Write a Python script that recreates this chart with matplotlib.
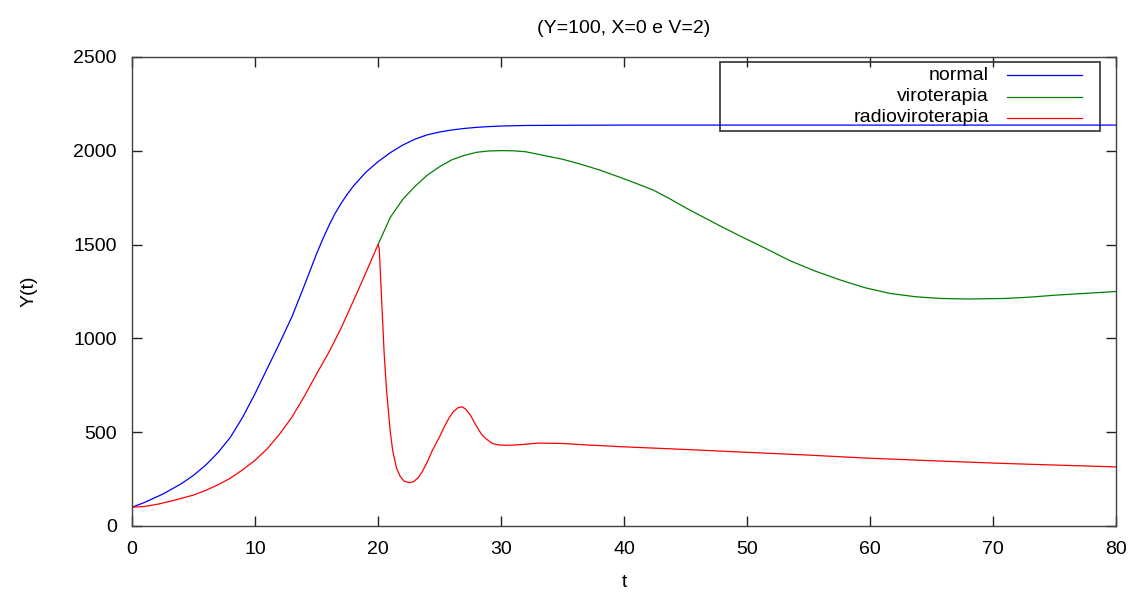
import matplotlib
matplotlib.use("Agg")
import matplotlib.pyplot as plt
from matplotlib.patches import Rectangle
from matplotlib.lines import Line2D

plt.rcParams['font.family'] = ['Liberation Sans', 'DejaVu Sans']

# values
t_normal = [0, 1, 2, 2.5, 3, 4, 5, 6, 7, 8, 9, 10, 11, 12, 13, 14, 14.5, 15, 15.5,
            16, 16.5, 17, 17.5, 18, 19, 20, 21, 22, 23, 24, 25, 26, 27, 28, 29, 30,
            32, 35, 40, 80]
y_normal = [100, 125, 155, 170, 188, 225, 270, 325, 392, 473, 580, 705, 840, 975,
            1115, 1280, 1365, 1450, 1528, 1600, 1665, 1720, 1768, 1812, 1885, 1942,
            1990, 2030, 2062, 2085, 2100, 2111, 2119, 2125, 2129, 2132, 2135, 2136,
            2137, 2137]

t_viro = [20, 21, 22, 23, 24, 25, 26, 27, 28, 29, 30, 31, 32, 33.5, 35, 36.4, 38,
          39.7, 41, 42.4, 43.7, 45.1, 47.8, 49.4, 51.5, 53.5, 55.5, 57.6, 59.6, 61.6,
          63.7, 65.7, 68, 71.1, 73, 75.2, 77.5, 80]
y_viro = [1500, 1645, 1740, 1810, 1870, 1915, 1952, 1975, 1992, 1999, 2001, 2000,
          1995, 1975, 1955, 1930, 1898, 1858, 1826, 1790, 1745, 1693, 1600, 1547,
          1480, 1414, 1360, 1311, 1270, 1240, 1222, 1213, 1210, 1213, 1220, 1231,
          1240, 1250]

t_radio = [0, 1, 2, 3, 4, 5, 6, 7, 8, 9, 10, 11, 12, 13, 14, 15, 16, 17, 18, 19, 20,
           20.1, 20.3, 20.5, 20.7, 21.0, 21.2, 21.5, 21.8, 22.1, 22.5, 22.9, 23.3,
           23.6, 24.0, 24.4, 25.0, 25.4, 25.8, 26.1, 26.5, 26.8, 27.1, 27.5, 27.9,
           28.4, 28.8, 29.3, 29.8, 30.5, 31.5, 33, 35, 37, 40, 45, 48.9, 55, 59.7,
           65, 70.6, 75, 80]
y_radio = [100, 104, 115, 130, 147, 165, 190, 220, 255, 300, 350, 412, 490, 580,
           690, 810, 925, 1055, 1200, 1348, 1500,
           1480, 1200, 920, 720, 500, 400, 310, 265, 240, 231, 236, 260,
           290, 340, 400, 475, 530, 579, 608, 630, 636, 625, 592, 544,
           490, 464, 440, 432, 430, 433, 442, 440, 432, 422, 408, 396, 378, 362,
           348, 334, 325, 315]

labels = ['normal', 'viroterapia', 'radioviroterapia']
colors = ['#0000ff', '#008000', '#ff0000']

fig = plt.figure(figsize=(11.39, 5.92), dpi=100)
ax = fig.add_axes([132 / 1139, 1 - 526 / 592, 984 / 1139, 469 / 592])

ax.plot(t_normal, y_normal, color=colors[0], lw=0.9, zorder=3)
ax.plot(t_viro, y_viro, color=colors[1], lw=0.9, zorder=3)
ax.plot(t_radio, y_radio, color=colors[2], lw=0.9, zorder=4)

ax.set_xlim(0, 80)
ax.set_ylim(0, 2500)
ax.set_xticks(range(0, 81, 10))
ax.set_yticks(range(0, 2501, 500))
ax.tick_params(direction='in', length=7, width=1, color='#202020',
               top=True, right=True, labelsize=14, pad=11)
for s in ax.spines.values():
    s.set_color('#404040')
    s.set_linewidth(1)

ax.set_title('(Y=100, X=0 e V=2)', fontsize=14, pad=17)
ax.set_xlabel('t', fontsize=14, labelpad=11)
ax.set_ylabel('Y(t)', fontsize=14, labelpad=26)

# gnuplot-style key: right aligned text, sample line after it
ax.add_patch(Rectangle((0.5976, 0.843), 0.9837 - 0.5976, 0.990 - 0.843,
                       transform=ax.transAxes, fill=False, edgecolor='#303030',
                       lw=1.2, zorder=2))
rows = [0.9616, 0.9154, 0.870]
for lab, col, yy in zip(labels, colors, rows):
    ax.text(0.871, yy, lab, transform=ax.transAxes, ha='right', va='center',
            fontsize=14, zorder=2)
    ax.add_line(Line2D([0.889, 0.9654], [yy, yy], transform=ax.transAxes,
                       color=col, lw=0.9, zorder=2))

fig.savefig('out.png', dpi=100)
